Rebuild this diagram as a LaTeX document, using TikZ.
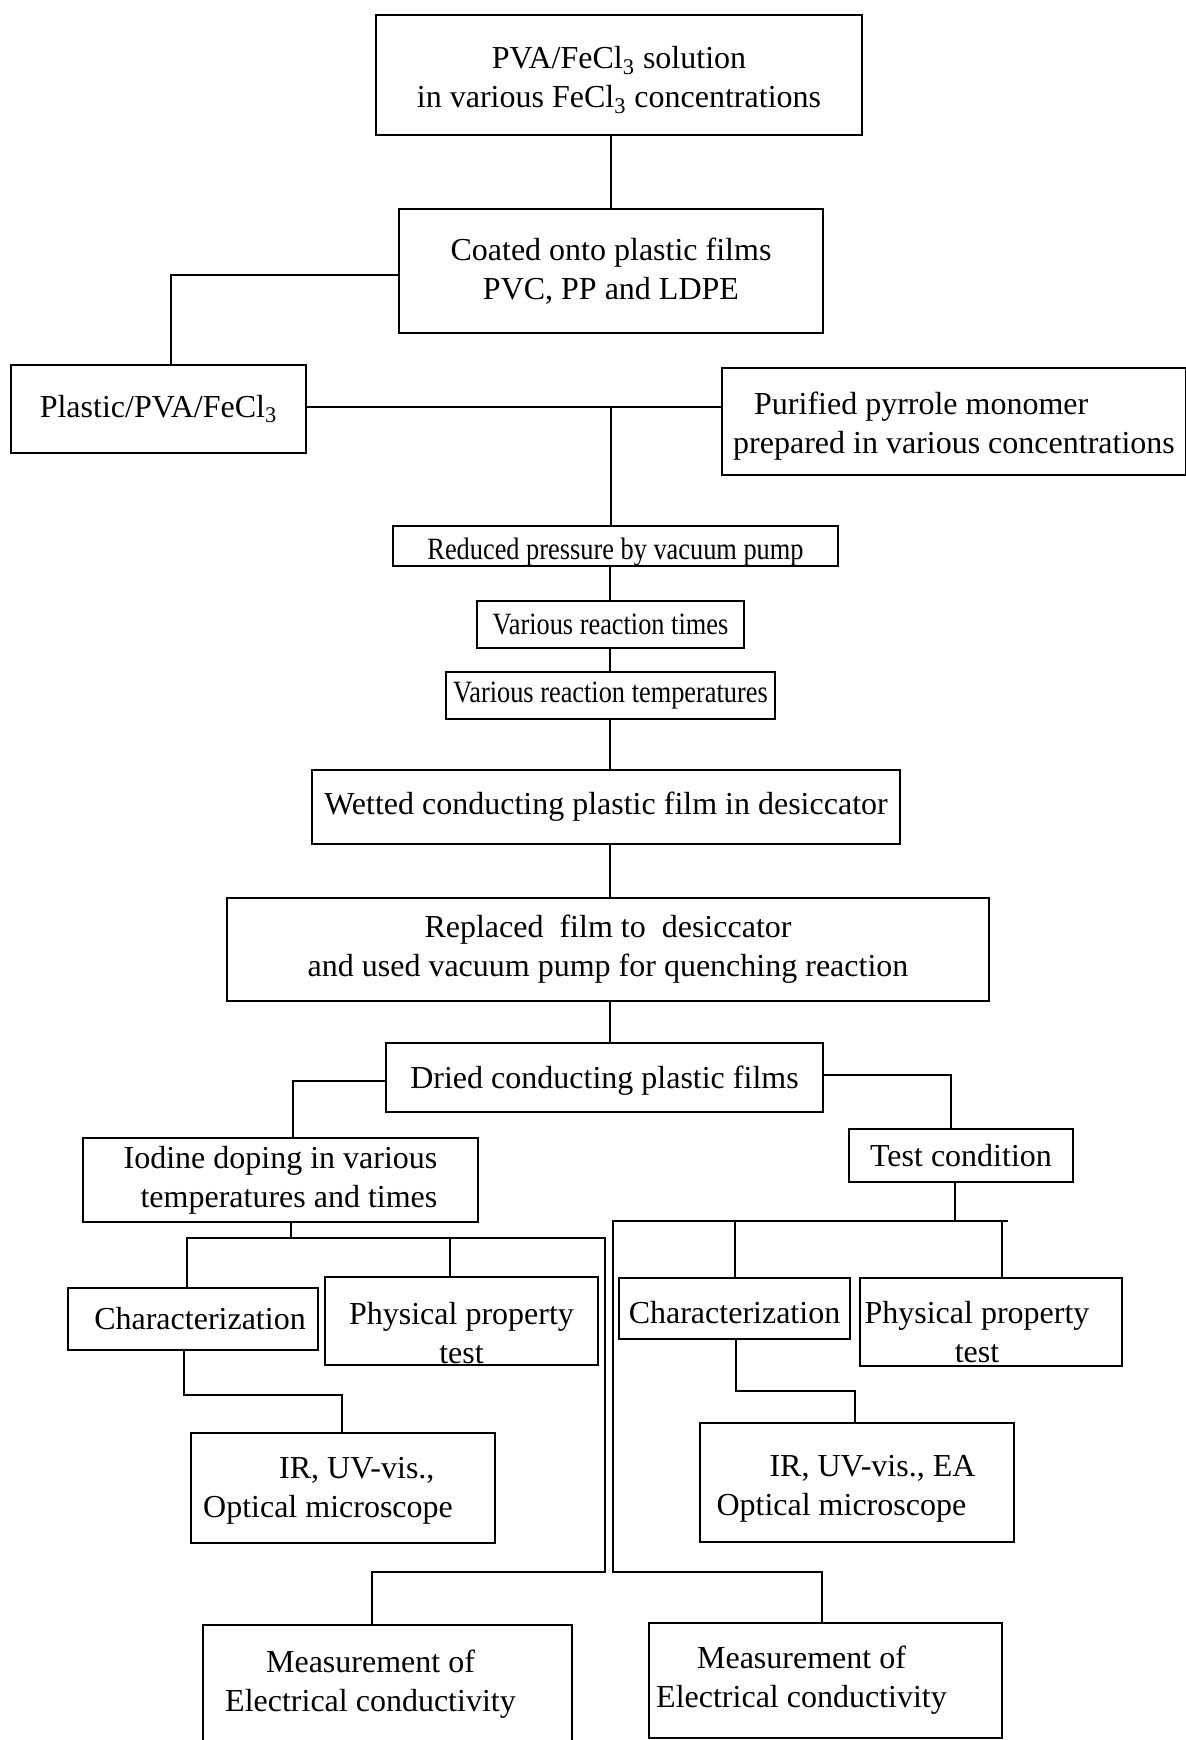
\documentclass[tikz,border=0pt]{standalone}
\usepackage{fontspec}
\setmainfont{Liberation Serif}
\newfontfamily\condfont{Liberation Serif}[FakeStretch=0.85]
\tikzset{
  box/.style={draw=black, line width=1.1pt, inner sep=0pt, fill=none},
  txt/.style={font=\fontsize{16}{19.5}\selectfont, align=center, inner sep=0pt},
  smalltxt/.style={font=\condfont\fontsize{15.5}{18}\selectfont},
  conn/.style={draw=black, line width=0.7pt},
}
\newcommand\mybox[7][]{%
  \node[box,minimum width={(#5-#3)*0.5pt},minimum height={(#6-#4)*0.5pt},
        label={[txt,#1]center:{#7}}] (#2) at ({(#3+#5)/2},{(#4+#6)/2}) {};}
\begin{document}
\begin{tikzpicture}[x=0.5pt,y=-0.5pt]
\useasboundingbox (0,0) rectangle (1186,1740);
\fill[white] (0,0) rectangle (1186,1740);
% boxes
\mybox[yshift=-2.5pt]{b1}{376}{15}{862}{135}{PVA/FeCl\textsubscript{3} solution\\in various FeCl\textsubscript{3} concentrations}
\mybox{b2}{399}{209}{823}{333}{Coated onto plastic films\\PVC, PP and LDPE}
\mybox{b3}{11}{365}{306}{453}{Plastic/PVA/FeCl\textsubscript{3}}
\mybox[align=left,yshift=-2.5pt]{b4}{722}{368}{1186}{475}{\hspace*{10.5pt}Purified pyrrole monomer\\prepared in various concentrations}
\mybox[smalltxt,yshift=-3pt]{b5}{393}{526}{838}{566}{Reduced pressure by vacuum pump}
\mybox[smalltxt]{b6}{477}{601}{744}{648}{Various reaction times}
\mybox[smalltxt]{b7}{446}{672}{775}{719}{Various reaction temperatures}
\mybox{b8}{312}{770}{900}{844}{Wetted conducting plastic film in desiccator}
\mybox{b9}{227}{898}{989}{1001}{Replaced \ film to \ desiccator\\and used vacuum pump for quenching reaction}
\mybox[yshift=-1.5pt]{b10}{386}{1043}{823}{1112}{Dried conducting plastic films}
\mybox[align=right]{b11}{83}{1138}{478}{1222}{Iodine doping in various\\temperatures and times}
\mybox{b12}{849}{1129}{1073}{1182}{Test condition}
\mybox[xshift=3.5pt]{b13}{68}{1288}{318}{1350}{Characterization}
\mybox[yshift=-6pt]{b14}{325}{1277}{598}{1365}{Physical property\\test}
\mybox[align=left,xshift=-7.5pt,yshift=-1.5pt]{b15}{191}{1433}{495}{1543}{\hspace*{38pt}IR, UV-vis.,\\Optical microscope}
\mybox[yshift=-2pt]{b16}{619}{1278}{850}{1339}{Characterization}
\mybox[xshift=-7pt,yshift=-5pt]{b17}{860}{1278}{1122}{1366}{Physical property\\test}
\mybox[align=left,xshift=-5.5pt,yshift=-3pt]{b18}{700}{1423}{1014}{1542}{\hspace*{26.5pt}IR, UV-vis., EA\\Optical microscope}
\mybox[xshift=-8.5pt]{b19}{203}{1625}{572}{1743}{Measurement of\\Electrical conductivity}
\mybox[xshift=-12pt]{b20}{649}{1623}{1002}{1738}{Measurement of\\Electrical conductivity}
% junction coordinates
\coordinate (sp) at (610,0);
\coordinate (j2) at (171,275);
\coordinate (j3) at (611,407);
\coordinate (j9) at (293,1081);
\coordinate (j10) at (951,1075);
\coordinate (h0) at (291,1238);
\coordinate (hl) at (187,1238);
\coordinate (hm) at (450,1238);
\coordinate (hr) at (605,1238);
\coordinate (m1) at (372,1572);
\coordinate (k1) at (184,1395);
\coordinate (k2) at (342,1395);
\coordinate (g0) at (955,1221);
\coordinate (gl) at (613,1221);
\coordinate (g16) at (735,1221);
\coordinate (g17) at (1002,1221);
\coordinate (gr) at (1008,1221);
\coordinate (m2) at (822,1572);
\coordinate (k3) at (736,1391);
\coordinate (k4) at (855,1391);
% connectors
\draw[conn] (b2.north) -- (b2.north |- b1.south);
\draw[conn] (j2 -| b2.west) -- (j2) -- (j2 |- b3.north);
\draw[conn] (j3 -| b3.east) -- (j3 -| b4.west);
\draw[conn] (j3) -- (j3 |- b5.north);
\draw[conn] (sp |- b5.south) -- (sp |- b6.north);
\draw[conn] (sp |- b6.south) -- (sp |- b7.north);
\draw[conn] (sp |- b7.south) -- (sp |- b8.north);
\draw[conn] (sp |- b8.south) -- (sp |- b9.north);
\draw[conn] (sp |- b9.south) -- (sp |- b10.north);
\draw[conn] (j9 -| b10.west) -- (j9) -- (j9 |- b11.north);
\draw[conn] (j10 -| b10.east) -- (j10) -- (j10 |- b12.north);
% left tree
\draw[conn] (h0 |- b11.south) -- (h0);
\draw[conn] (hl |- b13.north) -- (hl) -- (hr) -- (hr |- m1) -- (m1) -- (m1 |- b19.north);
\draw[conn] (hm) -- (hm |- b14.north);
\draw[conn] (k1 |- b13.south) -- (k1) -- (k2) -- (k2 |- b15.north);
% right tree
\draw[conn] (g0 |- b12.south) -- (g0);
\draw[conn] (gr) -- (gl) -- (gl |- m2) -- (m2) -- (m2 |- b20.north);
\draw[conn] (g16) -- (g16 |- b16.north);
\draw[conn] (g17) -- (g17 |- b17.north);
\draw[conn] (k3 |- b16.south) -- (k3) -- (k4) -- (k4 |- b18.north);
\end{tikzpicture}
\end{document}
